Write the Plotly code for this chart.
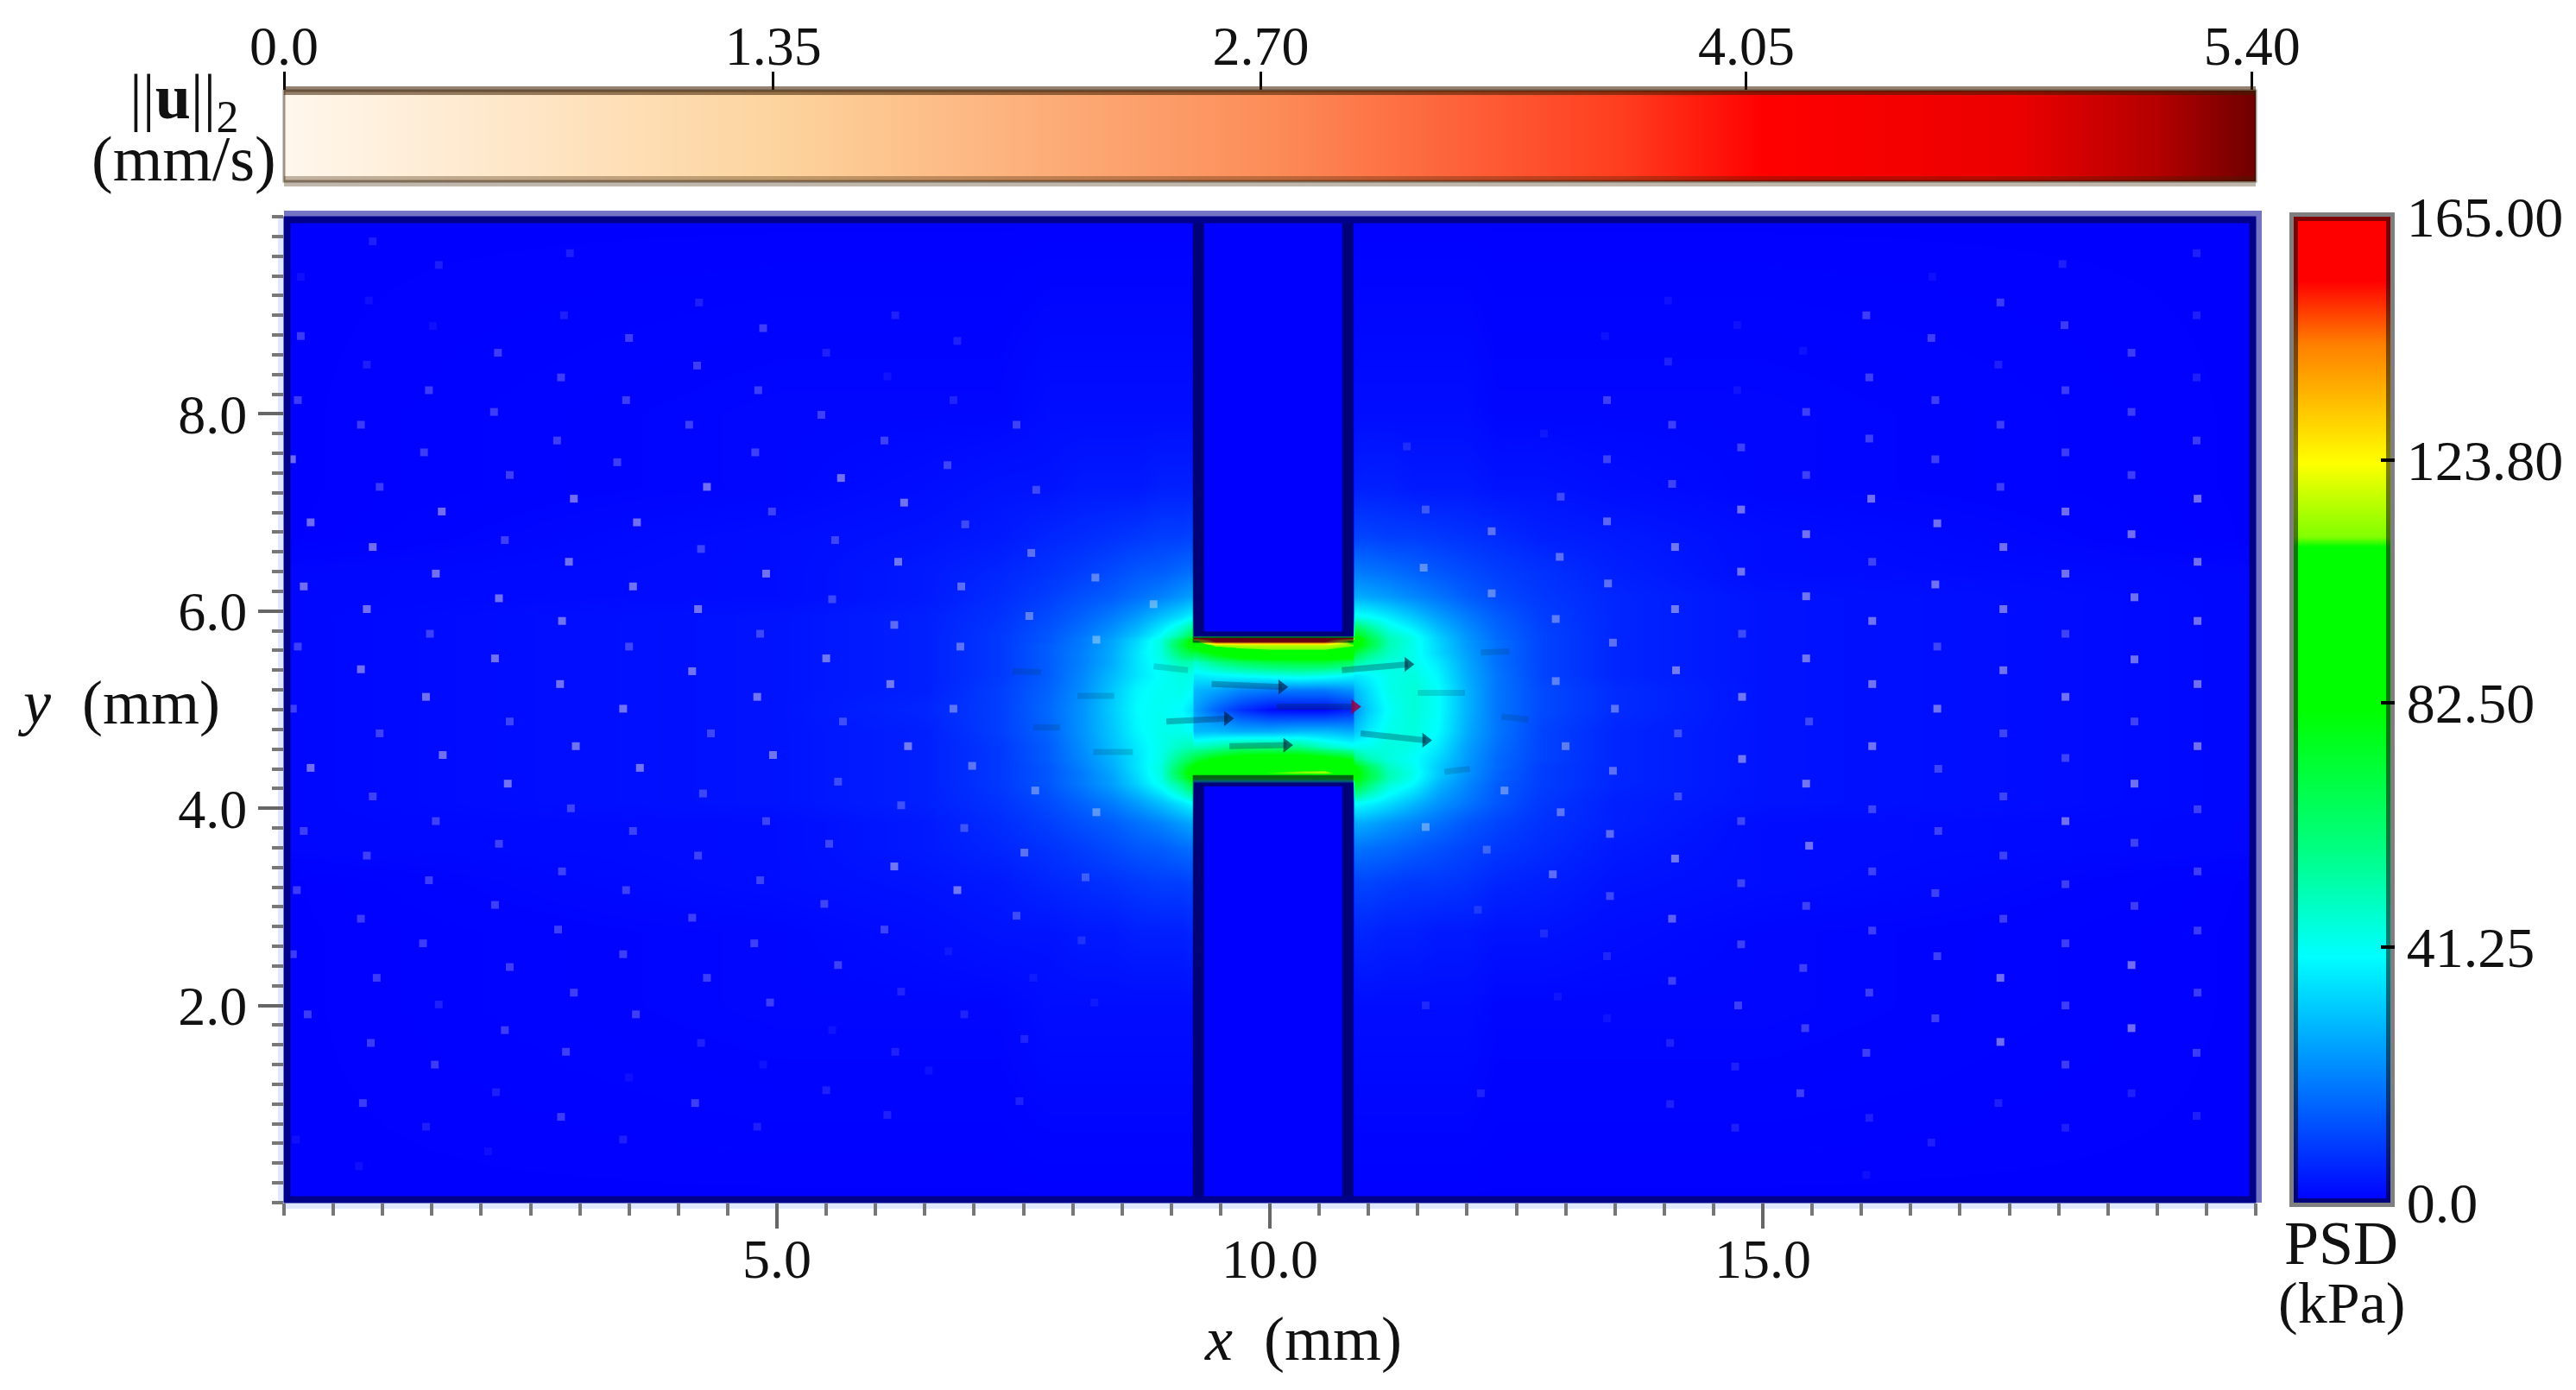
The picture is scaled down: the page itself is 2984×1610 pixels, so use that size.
import plotly.graph_objects as go

# pressure field, kPa
x_grid = [0, 5, 6.5, 7.25, 7.75, 8.1, 8.4, 8.65, 8.9, 9.1, 9.21, 9.23, 9.45, 9.7, 10, 10.3, 10.55, 10.84,
          10.86, 11.0, 11.2, 11.45, 11.7, 12, 12.3, 12.75, 13.5, 15, 20]
y_grid = [10, 8, 7.25, 6.75, 6.4, 6.15, 5.95, 5.75, 5.73, 5.70, 5.66, 5.58, 5.48, 5.35, 5.2, 5.0, 4.78, 4.62,
          4.5, 4.42, 4.36, 4.31, 4.26, 4.05, 3.85, 3.6, 3.25, 2.75, 2, 0]
psd_rows = [
    [0, 0, 0, 0, 0, 0, 0, 0, 0, 0, 0, 0, 0, 0, 0, 0, 0, 0, 0, 0, 0, 0, 0, 0, 0, 0, 0, 0, 0],
    [0, 1, 1, 1, 2, 2, 2, 2, 2, 2, 2, 0, 0, 0, 0, 0, 0, 0, 2, 2, 2, 2, 2, 2, 1, 1, 1, 1, 0],
    [0, 1, 2, 3, 3, 4, 4, 4, 5, 5, 5, 0, 0, 0, 0, 0, 0, 0, 5, 5, 5, 4, 4, 4, 3, 3, 2, 1, 0],
    [0, 2, 3, 4, 6, 7, 8, 9, 10, 10, 11, 0, 0, 0, 0, 0, 0, 0, 11, 11, 10, 10, 9, 8, 7, 5, 4, 2, 0],
    [1, 2, 4, 6, 8, 10, 12, 14, 15, 17, 18, 0, 0, 0, 0, 0, 0, 0, 20, 19, 18, 16, 14, 12, 10, 8, 5, 2, 1],
    [1, 2, 4, 7, 10, 13, 15, 18, 21, 24, 26, 0, 0, 0, 0, 0, 0, 0, 28, 27, 25, 22, 19, 15, 12, 9, 6, 3, 1],
    [1, 3, 5, 8, 12, 16, 20, 25, 31, 36, 40, 0, 0, 0, 0, 0, 0, 0, 43, 42, 38, 32, 26, 20, 15, 10, 6, 3, 1],
    [1, 3, 5, 9, 14, 19, 25, 32, 42, 55, 68, 0, 0, 0, 0, 0, 0, 0, 82, 66, 50, 43, 33, 24, 17, 11, 6, 3, 1],
    [1, 3, 5, 9, 14, 20, 26, 34, 44, 62, 80, 160, 160, 160, 160, 160, 160, 160, 90, 70, 52, 44, 34, 24, 17, 11, 6, 3, 1],
    [1, 3, 5, 9, 14, 20, 27, 35, 46, 68, 88, 100, 160, 160, 160, 160, 160, 100, 92, 72, 52, 44, 34, 25, 18, 11, 6, 3, 1],
    [1, 3, 5, 9, 15, 20, 27, 36, 46, 72, 88, 90, 116, 118, 118, 118, 118, 112, 90, 72, 52, 44, 35, 25, 18, 11, 6, 3, 1],
    [1, 3, 5, 9, 15, 21, 28, 37, 46, 64, 72, 70, 85, 100, 105, 105, 105, 100, 72, 60, 50, 44, 35, 26, 18, 11, 6, 3, 1],
    [1, 3, 5, 9, 15, 21, 28, 37, 44, 52, 52, 48, 58, 65, 70, 72, 72, 65, 55, 50, 46, 44, 38, 27, 18, 11, 6, 3, 1],
    [1, 3, 5, 9, 15, 22, 30, 37, 42, 45, 44, 38, 40, 42, 44, 46, 44, 40, 38, 40, 44, 46, 40, 28, 19, 11, 6, 3, 1],
    [1, 3, 5, 10, 16, 23, 32, 40, 43, 44, 42, 30, 27, 22, 20, 20, 20, 24, 30, 36, 44, 47, 42, 29, 19, 12, 7, 3, 1],
    [1, 3, 6, 10, 17, 24, 33, 41, 43, 41, 36, 26, 16, 8, 2, 1, 1, 6, 24, 33, 42, 47, 42, 29, 19, 12, 7, 3, 1],
    [1, 3, 5, 10, 16, 24, 32, 40, 44, 44, 42, 30, 30, 28, 28, 30, 30, 28, 32, 38, 44, 46, 41, 28, 19, 11, 6, 3, 1],
    [1, 3, 5, 9, 15, 23, 31, 38, 44, 50, 52, 50, 54, 60, 60, 58, 50, 44, 44, 44, 46, 44, 38, 26, 18, 11, 6, 3, 1],
    [1, 3, 5, 9, 15, 22, 29, 37, 45, 60, 68, 72, 84, 92, 95, 95, 90, 80, 62, 52, 46, 42, 35, 25, 17, 11, 6, 3, 1],
    [1, 3, 5, 9, 14, 21, 28, 37, 46, 68, 84, 86, 100, 104, 106, 106, 104, 96, 84, 66, 50, 43, 33, 24, 17, 10, 6, 3, 1],
    [1, 3, 5, 9, 14, 20, 27, 36, 46, 72, 90, 88, 100, 108, 110, 112, 114, 100, 88, 70, 52, 44, 33, 24, 16, 10, 6, 3, 1],
    [1, 3, 5, 9, 14, 20, 26, 35, 45, 68, 85, 90, 90, 90, 90, 90, 90, 90, 85, 70, 52, 43, 32, 23, 16, 10, 6, 3, 1],
    [1, 3, 5, 9, 14, 20, 26, 34, 44, 58, 72, 0, 0, 0, 0, 0, 0, 0, 78, 62, 48, 41, 30, 22, 15, 10, 6, 3, 1],
    [1, 3, 5, 8, 12, 16, 20, 25, 31, 37, 41, 0, 0, 0, 0, 0, 0, 0, 42, 40, 36, 30, 24, 19, 14, 9, 5, 3, 1],
    [1, 2, 4, 7, 10, 13, 15, 18, 21, 25, 27, 0, 0, 0, 0, 0, 0, 0, 28, 27, 24, 21, 18, 14, 11, 8, 5, 2, 1],
    [1, 2, 4, 6, 8, 10, 12, 14, 15, 17, 18, 0, 0, 0, 0, 0, 0, 0, 19, 18, 17, 15, 13, 11, 9, 7, 4, 2, 1],
    [0, 2, 3, 4, 6, 7, 8, 9, 10, 10, 11, 0, 0, 0, 0, 0, 0, 0, 11, 11, 10, 9, 9, 8, 6, 5, 3, 2, 0],
    [0, 1, 2, 3, 3, 4, 4, 5, 5, 5, 6, 0, 0, 0, 0, 0, 0, 0, 6, 6, 5, 5, 4, 4, 3, 3, 2, 1, 0],
    [0, 1, 1, 1, 2, 2, 2, 2, 2, 2, 2, 0, 0, 0, 0, 0, 0, 0, 2, 2, 2, 2, 2, 2, 1, 1, 1, 1, 0],
    [0, 0, 0, 0, 0, 0, 0, 0, 0, 0, 0, 0, 0, 0, 0, 0, 0, 0, 0, 0, 0, 0, 0, 0, 0, 0, 0, 0, 0],
]

# wall outline, mm
wall_x = [9.275, 9.275, 10.79, 10.79]
wall_top_y = [10, 5.735, 5.735, 10]
wall_bot_y = [0, 4.28, 4.28, 0]

# small velocity glyphs, one (x, y, speed) per blob, speed in mm/s
vf, f, m, l, c = 0.015, 0.03, 0.06, 0.11, 0.09
dots = [
    (.90, 9.75, f), (2.90, 9.63, f), (1.57, 9.51, f), (.17, 9.39, vf), (.86, 9.15, vf), (4.21, 9.13, f),
    (2.84, 9.00, f), (6.20, 9.00, f), (1.51, 8.89, vf), (4.86, 8.87, m), (.17, 8.79, m), (3.50, 8.77, m),
    (6.83, 8.74, f), (2.17, 8.62, m), (5.50, 8.62, f), (.84, 8.50, f), (4.19, 8.49, m), (2.81, 8.37, m),
    (6.12, 8.38, vf), (1.47, 8.24, m), (4.81, 8.24, m), (.14, 8.14, m), (3.47, 8.14, m), (6.79, 8.14, f),
    (2.13, 8.02, m), (5.45, 7.99, m), (.78, 7.89, m), (4.11, 7.89, m), (7.43, 7.89, m), (2.77, 7.73, m),
    (6.09, 7.73, m), (1.42, 7.61, m), (4.78, 7.61, m), (.08, 7.54, l), (3.38, 7.51, m), (6.73, 7.48, m),
    (2.29, 7.38, m), (5.65, 7.35, l), (.97, 7.26, m), (4.29, 7.26, l), (7.63, 7.23, m), (2.94, 7.14, l),
    (6.29, 7.10, l), (1.60, 7.01, l), (4.95, 7.01, m), (.27, 6.90, l), (3.58, 6.90, l), (6.91, 6.88, m),
    (2.24, 6.72, m), (5.59, 6.72, m), (.90, 6.65, l), (4.23, 6.63, m), (7.58, 6.59, c), (2.89, 6.50, l),
    (6.23, 6.50, l), (1.54, 6.38, l), (4.89, 6.38, l), (8.23, 6.34, c), (.20, 6.25, l), (3.54, 6.25, l),
    (6.87, 6.25, c), (2.18, 6.13, l), (5.56, 6.12, m), (.84, 6.02, l), (4.20, 6.02, l), (7.56, 5.95, c),
    (2.82, 5.90, l), (6.19, 5.86, c), (1.48, 5.77, m), (4.83, 5.77, m), (8.24, 5.71, c), (.14, 5.64, m),
    (3.50, 5.64, m), (6.86, 5.64, c), (2.14, 5.52, l), (5.50, 5.52, l), (.78, 5.41, l), (4.14, 5.39, l),
    (2.80, 5.26, l), (6.15, 5.26, l), (1.44, 5.13, l), (4.80, 5.13, l), (3.44, 5.01, l), (6.79, 5.01, c),
    (.09, 5.01, m), (8.82, 6.07, c),
    (2.29, 4.88, m), (5.67, 4.88, m), (.97, 4.76, m), (4.33, 4.76, m), (2.96, 4.63, l), (6.33, 4.63, l),
    (1.61, 4.54, l), (4.96, 4.54, l), (.27, 4.41, l), (3.61, 4.41, l), (6.98, 4.43, c), (2.27, 4.25, l),
    (5.62, 4.27, m), (.90, 4.12, m), (4.25, 4.15, m), (7.62, 4.18, c), (2.91, 4.00, m), (6.26, 4.03, m),
    (1.54, 3.87, m), (4.89, 3.87, m), (8.24, 3.96, c), (.20, 3.77, m), (3.54, 3.77, m), (6.90, 3.80, m),
    (2.18, 3.64, m), (5.53, 3.64, m), (.84, 3.52, m), (4.20, 3.52, m), (7.51, 3.55, c), (2.82, 3.36, m),
    (6.19, 3.41, l), (1.47, 3.27, m), (4.83, 3.27, m), (8.13, 3.30, m), (.13, 3.17, m), (3.47, 3.17, m),
    (6.83, 3.17, l), (2.14, 3.02, m), (5.48, 3.03, m), (.78, 2.88, m), (4.14, 2.89, m), (7.43, 2.91, m),
    (2.78, 2.77, m), (6.09, 2.77, m), (1.41, 2.63, m), (4.77, 2.63, m), (8.09, 2.66, f), (.09, 2.52, m),
    (3.44, 2.52, m), (6.74, 2.55, vf), (2.29, 2.39, m), (5.62, 2.41, m), (.94, 2.28, m), (4.29, 2.28, m),
    (7.60, 2.28, vf), (2.94, 2.13, m), (6.26, 2.14, f), (1.57, 2.01, f), (4.93, 2.03, m), (8.22, 2.03, vf),
    (.24, 1.91, m), (3.57, 1.91, m), (6.90, 1.91, f), (2.24, 1.75, m), (5.56, 1.75, vf), (.88, 1.62, m),
    (4.23, 1.62, f), (7.51, 1.66, f), (2.86, 1.53, m), (6.20, 1.53, f), (1.53, 1.40, m), (4.86, 1.40, vf),
    (3.50, 1.27, vf), (6.54, 1.34, vf), (2.15, 1.12, f), (5.50, 1.14, f), (.80, 1.01, m), (4.17, 1.01, m),
    (7.46, 1.03, f), (2.81, .87, m), (6.12, .89, f), (1.44, .77, f), (4.80, .77, f), (3.44, .64, f),
    (.12, .64, vf), (2.07, .52, vf), (.76, .37, vf),
    (19.40, 9.63, f), (18.04, 9.52, f), (16.72, 9.39, vf), (14.04, 9.15, vf), (17.41, 9.13, m), (16.05, 9.00, m),
    (19.40, 9.00, f), (14.74, 8.90, vf), (18.06, 8.90, m), (13.40, 8.79, vf), (16.71, 8.77, m), (15.41, 8.64, vf),
    (18.74, 8.62, m), (14.04, 8.53, f), (17.39, 8.50, f), (16.08, 8.37, m), (19.40, 8.37, f), (14.74, 8.24, vf),
    (18.07, 8.24, m), (13.42, 8.14, m), (16.75, 8.14, m), (15.44, 8.02, m), (18.74, 8.02, m), (14.08, 7.89, m),
    (17.41, 7.89, m), (12.78, 7.80, vf), (16.08, 7.75, m), (19.40, 7.73, m), (11.39, 7.67, f), (14.78, 7.66, m),
    (13.42, 7.54, m), (16.75, 7.54, m), (18.07, 7.61, m), (15.44, 7.38, m), (18.74, 7.38, m), (14.08, 7.29, m),
    (17.41, 7.26, m), (12.95, 7.16, m), (16.10, 7.14, l), (19.41, 7.14, l), (11.58, 7.03, m), (14.78, 7.03, l),
    (18.07, 7.01, l), (13.42, 6.91, c), (16.77, 6.89, l), (12.25, 6.81, c), (15.44, 6.78, l), (18.74, 6.78, l),
    (14.11, 6.65, l), (17.44, 6.65, l), (12.94, 6.55, c), (16.11, 6.50, m), (19.41, 6.50, l), (11.56, 6.44, c),
    (14.78, 6.40, l), (18.07, 6.38, l), (13.43, 6.28, c), (16.75, 6.27, l), (12.25, 6.18, c), (15.44, 6.15, l),
    (18.77, 6.14, l), (14.11, 6.02, l), (17.44, 6.02, l), (12.90, 5.92, c), (16.11, 5.90, l), (19.41, 5.90, l),
    (14.79, 5.77, m), (18.07, 5.77, m), (13.48, 5.68, c), (16.77, 5.64, m), (15.44, 5.52, l), (18.77, 5.51, l),
    (14.12, 5.40, l), (17.44, 5.40, l), (12.90, 5.29, c), (16.11, 5.26, l), (19.41, 5.26, l), (14.79, 5.13, l),
    (18.07, 5.13, l), (13.50, 5.01, c), (16.77, 5.01, l),
    (15.47, 4.88, m), (18.77, 4.88, m), (14.14, 4.76, m), (17.44, 4.76, m), (13.00, 4.63, c), (16.11, 4.63, l),
    (19.41, 4.63, l), (14.79, 4.50, l), (18.07, 4.51, m), (13.48, 4.38, c), (16.78, 4.40, m), (15.44, 4.25, l),
    (18.77, 4.25, l), (12.38, 4.18, c), (14.14, 4.12, m), (17.44, 4.12, m), (12.95, 3.96, c), (16.11, 3.99, m),
    (19.41, 3.99, m), (14.78, 3.87, m), (18.07, 3.87, l), (11.58, 3.81, c), (13.45, 3.74, c), (16.78, 3.77, m),
    (15.47, 3.62, l), (18.77, 3.65, m), (12.20, 3.58, m), (14.11, 3.49, l), (17.44, 3.52, m), (12.87, 3.33, c),
    (16.11, 3.36, m), (19.41, 3.36, m), (14.78, 3.24, m), (18.07, 3.23, m), (13.45, 3.11, m), (16.75, 3.14, m),
    (15.44, 3.01, m), (18.77, 3.01, m), (12.11, 2.97, f), (14.08, 2.88, c), (17.44, 2.88, m), (12.78, 2.73, f),
    (16.11, 2.76, m), (19.41, 2.76, m), (14.78, 2.62, m), (18.07, 2.63, m), (13.42, 2.50, f), (16.77, 2.50, m),
    (15.41, 2.38, m), (18.74, 2.41, l), (14.08, 2.25, m), (17.41, 2.28, l), (12.92, 2.09, vf), (16.08, 2.13, m),
    (19.41, 2.13, m), (11.58, 2.00, f), (14.75, 2.00, m), (18.07, 2.00, m), (13.42, 1.87, vf), (16.75, 1.87, m),
    (15.43, 1.77, m), (18.74, 1.77, l), (14.06, 1.62, f), (17.41, 1.63, l), (16.05, 1.52, m), (19.40, 1.52, m),
    (14.72, 1.38, f), (18.07, 1.40, m), (12.14, 1.11, f), (15.38, 1.11, m), (18.74, 1.11, f), (14.06, 1.00, f),
    (17.39, 1.01, f), (16.08, .86, f), (19.40, .88, f), (14.72, .76, f), (18.07, .76, f), (16.71, .61, f),
    (16.05, .28, vf),
]
dot_x = [d[0] for d in dots]
dot_y = [d[1] for d in dots]
dot_speed = [d[2] for d in dots]

# the longer arrows around the gap
near_x0 = [9.41, 10.07, 8.95, 9.59, 10.92, 10.73, 8.82, 11.50, 8.05, 12.35, 11.77, 8.21, 7.60, 7.39, 12.14]
near_y0 = [5.26, 5.03, 4.88, 4.63, 4.76, 5.40, 5.44, 5.17, 5.14, 4.93, 4.37, 4.57, 4.82, 5.39, 5.58]
near_x1 = [10.12, 10.86, 9.57, 10.17, 11.58, 11.40, 9.17, 11.98, 8.42, 12.62, 12.03, 8.61, 7.87, 7.68, 12.43]
near_y1 = [5.23, 5.03, 4.91, 4.64, 4.69, 5.46, 5.40, 5.17, 5.14, 4.90, 4.40, 4.57, 4.82, 5.38, 5.59]
near_speed = [3.0, 5.2, 3.0, 3.0, 3.2, 3.2, 1.2, 1.2, 1.0, 0.8, 0.8, 1.0, 0.8, 0.8, 0.8]

# tick places as they sit on the two bars in the picture, a little off the even split
psd_ticks = [0, 42.8, 83.7, 124.3, 165]
psd_labels = ["0.0", "41.25", "82.50", "123.80", "165.00"]
speed_ticks = [0, 1.34, 2.675, 4.005, 5.39]
speed_labels = ["0.0", "1.35", "2.70", "4.05", "5.40"]
# ramp of the top colour bar, mm/s
speed_ramp = [0, .2, .4, .6, .8, 1.0, 1.2, 1.4, 1.6, 1.8, 2.0, 2.2, 2.4, 2.6, 2.8, 3.0, 3.2, 3.4, 3.6, 3.8,
              4.0, 4.2, 4.4, 4.6, 4.8, 5.0, 5.2, 5.4]

psd_scale = [[0, "#0000ff"], [.25, "#00ffff"], [.36, "#00ff80"], [.5, "#00ff00"], [.665, "#00ff00"],
             [.675, "#80ff00"], [.75, "#ffff00"], [.87, "#ff8000"], [.935, "#ff0000"], [1, "#ff0000"]]
speed_scale = [[0, "#fff7ec"], [.25, "#fdd49e"], [.5, "#fc8d59"], [.68, "#ff3c1e"], [.75, "#ff0000"],
               [.88, "#eb0000"], [.95, "#b40000"], [1, "#6e0000"]]

FONT = "Liberation Serif"
INK = "#111"
PAGE = 8  # browser body margin, the page is shifted by this much
W, H = 2984 - 2 * PAGE, 1610 - 2 * PAGE
# all in page pixels of the reference
L, R, T, B = 329, 2613, 251, 1393
BAR_T, BAR_B = 105, 210
TOTAL = B - BAR_T
MAIN_DOMAIN = [0, (B - T) / TOTAL]
BAR_DOMAIN = [(B - BAR_B) / TOTAL, 1]


def px(x):
    return (x - L) / (R - L)


def py(y):
    return (B - y) / TOTAL


fig = go.Figure()

fig.add_trace(go.Heatmap(
    x=x_grid, y=y_grid[::-1], z=psd_rows[::-1], zmin=0, zmax=165, zsmooth="best",
    colorscale=psd_scale,
    colorbar=dict(
        x=px(2657), xanchor="left", xpad=0,
        y=0, yanchor="bottom", ypad=0,
        len=MAIN_DOMAIN[1], lenmode="fraction", thickness=112, thicknessmode="pixels",
        outlinecolor="rgba(0,0,0,0.5)", outlinewidth=10,
        tickmode="array", tickvals=psd_ticks, ticktext=psd_labels,
        ticks="inside", ticklen=16, tickwidth=4, tickcolor="#000",
        tickfont=dict(family=FONT, size=66, color=INK),
    ),
))

fig.add_trace(go.Heatmap(
    x=speed_ramp, y=[0, 1], z=[speed_ramp, speed_ramp], zmin=0, zmax=5.4, zsmooth="best",
    colorscale=speed_scale, showscale=False, xaxis="x2", yaxis="y2",
))

fig.add_trace(go.Scatter(
    x=dot_x, y=dot_y, mode="markers", showlegend=False,
    marker=dict(
        symbol="square", size=9, line_width=0,
        color=dot_speed, colorscale=speed_scale, cmin=0, cmax=5.4, showscale=False,
        opacity=[s / 0.25 for s in dot_speed],
    ),
))

for x0, y0, x1, y1, s in zip(near_x0, near_y0, near_x1, near_y1, near_speed):
    shaft = "rgba(0,40,70,0.32)" if s >= 3 else "rgba(0,60,90,0.2)"
    fig.add_trace(go.Scatter(
        x=[x0, x1], y=[y0, y1], mode="lines", showlegend=False,
        line=dict(color=shaft, width=7),
    ))
    if s >= 3:
        head = "rgba(150,0,70,0.85)" if s > 5 else "rgba(0,20,50,0.6)"
        fig.add_trace(go.Scatter(
            x=[x1], y=[y1], mode="markers", showlegend=False,
            marker=dict(symbol="triangle-right", size=15, color=head, line_width=0),
        ))

for wy in (wall_top_y, wall_bot_y):
    fig.add_trace(go.Scatter(
        x=wall_x, y=wy, mode="lines", showlegend=False,
        line=dict(color="rgba(0,0,30,0.6)", width=13),
    ))

# blurred frame round the plot
dx, dy = 7 / (R - L), 7 / (B - T)
frame = [
    dict(x0=0, x1=1 + dx, y0=1, y1=1 + dy, fillcolor="#7474c4"),
    dict(x0=1, x1=1 + dx, y0=0, y1=1, fillcolor="#7474c4"),
    dict(x0=0, x1=1, y0=-dy, y1=0, fillcolor="#dfe8ff"),
    dict(x0=-dx, x1=0, y0=0, y1=1, fillcolor="#dfe8ff"),
]
shapes = [dict(type="rect", xref="x domain", yref="y domain", line_width=0, layer="below", **s) for s in frame]
shapes.append(dict(type="rect", xref="x domain", yref="y domain",
                   x0=dx / 2, x1=1 - dx / 2, y0=dy / 2, y1=1 - dy / 2,
                   line=dict(color="#00008b", width=8), layer="above"))
# top bar: heavy brownish edge above, lighter one below, thin sides
shapes += [
    dict(type="rect", xref="x2 domain", yref="y2 domain", x0=0, x1=1, y0=0, y1=1,
         line=dict(color="rgba(40,20,0,0.45)", width=3), layer="above"),
    dict(type="line", xref="x2 domain", yref="y2 domain", x0=0, x1=1, y0=1, y1=1,
         line=dict(color="rgba(60,30,0,0.55)", width=10), layer="above"),
    dict(type="line", xref="x2 domain", yref="y2 domain", x0=0, x1=1, y0=0, y1=0,
         line=dict(color="rgba(60,30,0,0.32)", width=12), layer="above"),
]

annotations = [
    dict(text="<i>x</i>  (mm)", x=px(1509), y=py(1551), size=72),
    dict(text="<i>y</i>  (mm)", x=px(137), y=py(814), size=72),
    dict(text="||<b>u</b>||<sub>2</sub>", x=px(213), y=py(118), size=74),
    dict(text="(mm/s)", x=px(213), y=py(184), size=74),
    dict(text="PSD", x=px(2712), y=py(1440), size=72),
    dict(text="(kPa)", x=px(2712), y=py(1509), size=68),
]
for a in annotations:
    a.update(xref="paper", yref="paper", showarrow=False, xanchor="center", yanchor="middle",
             font=dict(family=FONT, size=a.pop("size"), color=INK))

fig.update_layout(
    width=W, height=H,
    margin=dict(l=L - PAGE, r=W - (R - PAGE), t=BAR_T - PAGE, b=H - (B - PAGE), pad=0, autoexpand=False),
    paper_bgcolor="white", plot_bgcolor="#0000ff", showlegend=False,
    shapes=shapes, annotations=annotations,
    font=dict(family=FONT, size=64, color=INK),
    xaxis=dict(
        range=[0, 20], showgrid=False, zeroline=False, automargin=False, anchor="y",
        tickmode="array", tickvals=[5, 10, 15], ticktext=["5.0", "10.0", "15.0"],
        ticks="outside", ticklen=29, tickwidth=4, tickcolor="#666", ticklabelstandoff=-20,
        minor=dict(dtick=0.5, ticks="outside", ticklen=14, tickwidth=4, tickcolor="#777", showgrid=False),
    ),
    yaxis=dict(
        range=[0, 10], domain=MAIN_DOMAIN, showgrid=False, zeroline=False, automargin=False, anchor="x",
        tickmode="array", tickvals=[2, 4, 6, 8], ticktext=["2.0", "4.0", "6.0", "8.0"],
        ticks="outside", ticklen=29, tickwidth=4, tickcolor="#666",
        minor=dict(dtick=0.2, ticks="outside", ticklen=13, tickwidth=4, tickcolor="#777", showgrid=False),
    ),
    xaxis2=dict(
        range=[0, 5.4], side="top", anchor="y2", showgrid=False, zeroline=False, automargin=False,
        tickmode="array", tickvals=speed_ticks, ticktext=speed_labels,
        ticks="outside", ticklen=21, tickwidth=3, tickcolor="#000", ticklabelstandoff=-18,
    ),
    yaxis2=dict(range=[0, 1], domain=BAR_DOMAIN, anchor="x2", visible=False),
)

fig.write_html("out.html")
